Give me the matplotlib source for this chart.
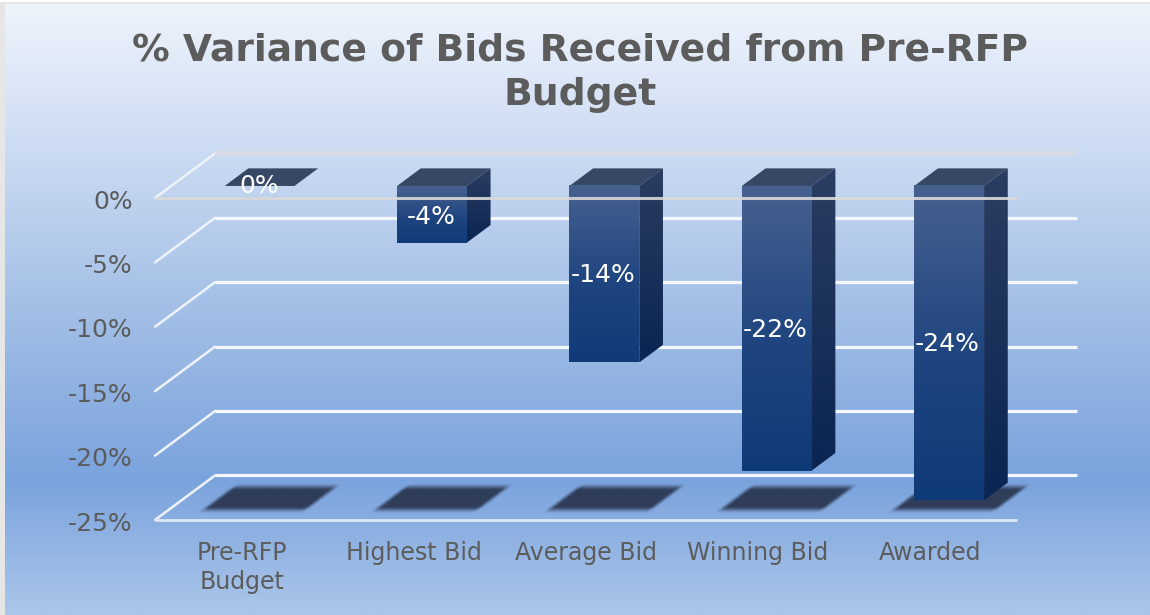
import matplotlib
matplotlib.use('Agg')
import matplotlib.pyplot as plt
from matplotlib.colors import LinearSegmentedColormap, to_rgb
from matplotlib.patches import Rectangle
import numpy as np


categorias = ['Pre-RFP\nBudget', 'Highest Bid', 'Average Bid', 'Winning Bid', 'Awarded']
valores = [0, -4.4, -13.7, -22.1, -24.4]
rotulos = ['0%', '-4%', '-14%', '-22%', '-24%']
ticks_y = [0, -5, -10, -15, -20, -25]
titulo = '% Variance of Bids Received from Pre-RFP\nBudget'

COR_TEXTO = '#5c5c5c'

# deslocamento da profundidade em unidades de dados
DX = 0.348
DY = 3.46
LARGURA = 0.405
PROF_BARRA = (0.27, 0.665)

fundo = LinearSegmentedColormap.from_list('fundo', [
    (0.0, '#eff4fc'), (0.23, '#cddcf3'), (0.50, '#a3bfe6'),
    (0.78, '#7aa3dd'), (1.0, '#abc6ea')])
frente = LinearSegmentedColormap.from_list('frente', [
    (0.0, '#47618f'), (0.55, '#1f4580'), (1.0, '#0f3a78')])
lado = LinearSegmentedColormap.from_list('lado', [
    (0.0, '#2b3d62'), (1.0, '#0a2552')])


def proj(x, y, d):
    return x + d * DX, y + d * DY


def gradiente(ax, cmap, extent):
    return ax.imshow(np.linspace(0, 1, 256).reshape(-1, 1), cmap=cmap, aspect='auto',
                     extent=extent, zorder=4)


def barra_3d(ax, i, valor):
    esq, dir_ = i + 0.31, i + 0.31 + LARGURA
    d0, d1 = PROF_BARRA
    topo = [proj(esq, 0, d0), proj(dir_, 0, d0), proj(dir_, 0, d1), proj(esq, 0, d1)]
    ax.fill(*zip(*topo), color='#374766', lw=0, zorder=4, clip_on=False)
    if valor == 0:
        return
    x0, y0 = proj(esq, 0, d0)
    x1, y1 = proj(dir_, valor, d0)
    img = gradiente(ax, frente, (x0, x1, y1, y0))
    img.set_clip_on(False)
    # lado da barra
    x2, y2 = proj(dir_, 0, d1)
    x3, y3 = proj(dir_, valor, d1)
    img = gradiente(ax, lado, (x1, x2, y1, y2))
    poly = plt.Polygon([(x1, y0), (x2, y2), (x3, y3), (x1, y1)], transform=ax.transData,
                       fc='none', ec='none')
    poly.set_clip_on(False)
    ax.add_patch(poly)
    img.set_clip_box(ax.figure.bbox)
    img.set_clip_path(poly)


def rampa(v):
    v = np.clip(v, 0, 1)
    return v ** 2 * (3 - 2 * v)


def sombra(ax, i, cor='#2d3a55'):
    # sombra borrada no chao, calculada no plano do chao
    u0, u1 = i + 0.2, i + 0.79
    d0, d1 = 0.225, 0.74
    xs = np.linspace(i, i + 1.3, 400)
    ys = np.linspace(-25 + 0.05 * DY, -25 + 0.95 * DY, 160)
    X, Y = np.meshgrid(xs, ys)
    d = (Y + 25) / DY
    u = X - d * DX
    su, sd = 0.05, 0.17
    alfa = (rampa((u - u0) / su + 0.5) * rampa((u1 - u) / su + 0.5)
            * rampa((d - d0) / sd + 0.5) * rampa((d1 - d) / sd + 0.5))
    rgba = np.zeros(X.shape + (4,))
    rgba[..., :3] = to_rgb(cor)
    rgba[..., 3] = alfa * 0.97
    img = ax.imshow(rgba, origin='lower', aspect='auto', zorder=2,
                    extent=(xs[0], xs[-1], ys[0], ys[-1]))
    img.set_clip_on(False)


fig = plt.figure(figsize=(11.5, 6.15), dpi=100, facecolor='#e6e6e6')
fig.add_artist(Rectangle((0, 1 - 2 / 615), 1, 2 / 615, transform=fig.transFigure,
                         fc='white', ec='none'))

ax_bg = fig.add_axes([5 / 1150, 0, 1 - 5 / 1150, 1 - 4 / 615])
ax_bg.imshow(np.linspace(0, 1, 256).reshape(-1, 1), cmap=fundo, aspect='auto')
ax_bg.axis('off')

ax = fig.add_axes([155 / 1150, 1 - 520 / 615, 862 / 1150, 322 / 615])
ax.patch.set_alpha(0)
ax.axis('off')

# linhas de grade (parede de tras e lateral)
for t in ticks_y:
    x_a, y_a = proj(0, t, 0)
    x_b, y_b = proj(0, t, 1)
    x_c, y_c = proj(5, t, 1)
    cor = '#d9dbe6' if t == 0 else '#f4f8fd'
    lw = 3 if t == 0 else 2.3
    ax.plot([x_a, x_b], [y_a, y_b], color='#eef3fb', lw=1.8, clip_on=False, zorder=1,
            solid_capstyle='round')
    ax.plot([x_b, x_c], [y_b, y_c], color=cor, lw=lw, clip_on=False, zorder=1,
            solid_capstyle='butt')

ax.plot([0, 5], [-25, -25], color='#dce7f6', lw=2, clip_on=False, zorder=1,
        solid_capstyle='butt')

for i in range(len(categorias)):
    sombra(ax, i)
for i, v in enumerate(valores):
    barra_3d(ax, i, v)

# linha do zero passa na frente das barras
ax.plot([0, 5], [0, 0], color='#d8d8d8', lw=2.2, alpha=0.9, clip_on=False, zorder=5,
        solid_capstyle='butt')

ax.set_xlim(0, 5)
ax.set_ylim(-25, 0)

for t in ticks_y:
    ax.text(-0.13, t - 0.28, '{}%'.format(t), ha='right', va='center', fontsize=18,
            color=COR_TEXTO, clip_on=False)

for i, nome in enumerate(categorias):
    ax.text(i + 0.505 - 0.003 * i, -26.6, nome, ha='center', va='top', fontsize=17,
            color=COR_TEXTO, linespacing=1.3, clip_on=False)

pos_rotulos = [0.93, -1.45, -6.0, -10.25, -11.35]
for i, (r, p) in enumerate(zip(rotulos, pos_rotulos)):
    ax.text(i + 0.605 - 0.003 * i, p, r, ha='center', va='center', fontsize=18,
            color='white', zorder=6, clip_on=False)

fig.text(580 / 1150, 1 - 73 / 615, titulo, ha='center', va='center', fontsize=27.1,
         fontweight='bold', color=COR_TEXTO, linespacing=1.3)

fig.savefig('out.png', dpi=100, facecolor=fig.get_facecolor())
